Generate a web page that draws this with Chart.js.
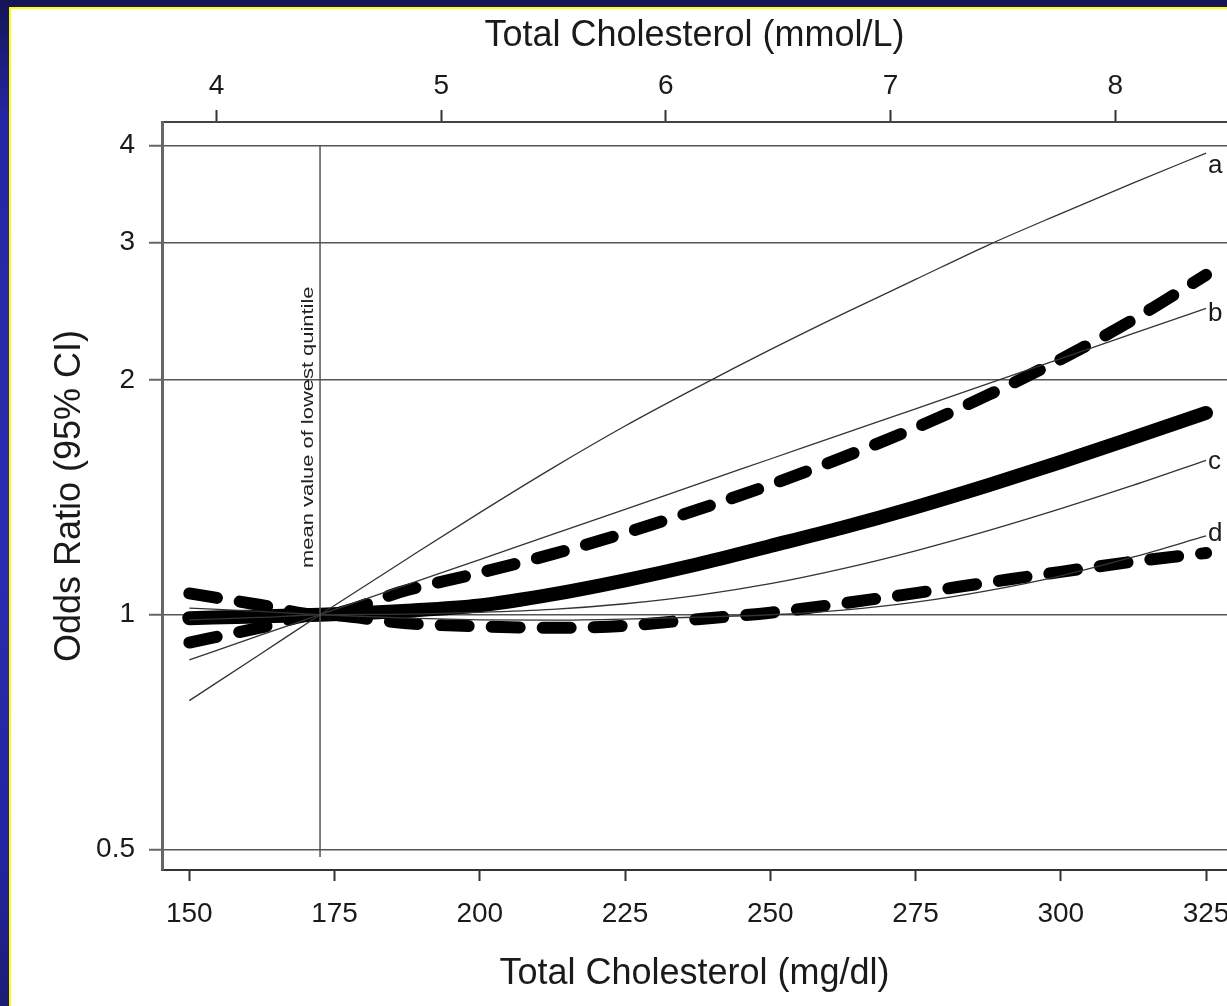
<!DOCTYPE html>
<html>
<head>
<meta charset="utf-8">
<script src="https://cdn.jsdelivr.net/npm/chart.js@4/dist/chart.umd.min.js"></script>
<style>
  html, body { margin: 0; padding: 0; width: 1227px; height: 1006px; overflow: hidden; }
  body { position: relative; background: linear-gradient(to bottom, #141455 0%, #2626a4 12%, #2b2bae 55%, #2424a0 85%, #1c1c74 100%); }
  #panel { position: absolute; left: 9px; top: 7px; right: 0; bottom: 0; background: #ffffff;
           border-left: 2px solid #ffff00; border-top: 2px solid #ffff00; }
  #wrap { position: absolute; left: 0; top: 0; width: 1227px; height: 1006px; }
</style>
</head>
<body>
<div id="panel"></div>
<div id="wrap"><canvas id="chart" width="1227" height="1006"></canvas></div>
<script>
// Total cholesterol grid (mg/dl) at which the curves are evaluated
const cholesterolMg = [150, 162, 172.5, 187.5, 200, 212.5, 225, 237.5, 250, 262.5, 275, 287.5, 300, 312.5, 325];

// Odds ratio estimate with its 95% confidence band
const oddsRatio = [0.99, 0.995, 1.0, 1.012, 1.028, 1.062, 1.107, 1.161, 1.225, 1.294, 1.374, 1.466, 1.570, 1.687, 1.815];
const upperCI   = [1.065, 1.03, 1.0, 1.076, 1.132, 1.196, 1.273, 1.364, 1.468, 1.592, 1.737, 1.914, 2.127, 2.392, 2.729];
const lowerCI   = [0.921, 0.962, 1.0, 0.975, 0.966, 0.962, 0.968, 0.987, 1.006, 1.034, 1.066, 1.10, 1.135, 1.17, 1.20];

// Comparison curves a–d
const curveA = [0.776, 0.888, 1.0, 1.18, 1.352, 1.542, 1.746, 1.959, 2.188, 2.432, 2.692, 2.98, 3.27, 3.58, 3.91];
const curveB = [0.875, 0.94, 1.0, 1.093, 1.177, 1.268, 1.365, 1.471, 1.584, 1.706, 1.837, 1.979, 2.131, 2.295, 2.472];
const curveC = [0.985, 0.992, 1.0, 1.002, 1.007, 1.016, 1.033, 1.059, 1.096, 1.146, 1.208, 1.282, 1.368, 1.466, 1.578];
const curveD = [1.02, 1.01, 1.0, 0.99, 0.985, 0.984, 0.987, 0.993, 1.0, 1.014, 1.038, 1.074, 1.122, 1.186, 1.262];
const curveNames = ['a', 'b', 'c', 'd'];

// Reference: mean value of the lowest quintile
const lowestQuintileMean = 172.5;
const refLineSpan = [4, 0.489];
const noteText = 'mean value of lowest quintile';

// Axis ticks and ranges
const mgTicks = [150, 175, 200, 225, 250, 275, 300, 325];
const mmolTicks = [4, 5, 6, 7, 8];
const orTicks = [0.5, 1, 2, 3, 4];
const MG_PER_MMOL = 38.67;
const X_MIN = 145.3, X_MAX = 328.6;
const Y_MIN = 0.4705, Y_MAX = 4.286;

const FAMILY = '"Liberation Sans", Arial, Helvetica, sans-serif';
const INK = '#1a1a1a';
const tickFont = { family: FAMILY, size: 28 };
const titleFont = { family: FAMILY, size: 36 };

const pts = ys => cholesterolMg.map((x, i) => ({ x, y: ys[i] }));

const thin = (ys, label) => ({
  label, data: pts(ys), borderColor: '#333', borderWidth: 1.3,
  pointRadius: 0, cubicInterpolationMode: 'monotone', fill: false
});
const thickDash = (ys, label) => ({
  label, data: pts(ys), borderColor: '#000', borderWidth: 12,
  borderDash: [28, 23], borderCapStyle: 'round',
  pointRadius: 0, cubicInterpolationMode: 'monotone', fill: false
});

// Letter offsets (px) from each curve's end point to the label baseline
const letterDy = [20, 12.5, 9, 5];

const annotate = {
  id: 'annotate',
  afterDatasetsDraw(chart) {
    const { ctx, scales: { x, y } } = chart;
    ctx.save();
    ctx.fillStyle = '#222';
    // rotated note alongside the reference line
    ctx.translate(x.getPixelForValue(lowestQuintileMean) - 11, y.getPixelForValue(1.74));
    ctx.rotate(-Math.PI / 2);
    ctx.scale(1.37, 1);
    ctx.font = '16px ' + FAMILY;
    ctx.textAlign = 'center';
    ctx.textBaseline = 'middle';
    ctx.fillText(noteText, 0, 0);
    ctx.restore();

    // curve letters at the right end of each thin curve
    ctx.save();
    ctx.fillStyle = INK;
    ctx.font = '26px ' + FAMILY;
    ctx.textAlign = 'left';
    ctx.textBaseline = 'alphabetic';
    const ends = [curveA, curveB, curveC, curveD].map(c => c[c.length - 1]);
    const lastX = cholesterolMg[cholesterolMg.length - 1];
    ends.forEach((v, i) => {
      ctx.fillText(curveNames[i], x.getPixelForValue(lastX) + 2, y.getPixelForValue(v) + letterDy[i]);
    });
    ctx.restore();
  }
};

// Horizontal axes keep a fixed band height and no label overhang padding
const fixHorizontal = h => s => { s.height = h; s.paddingLeft = 0; s.paddingRight = 0; };

new Chart(document.getElementById('chart'), {
  type: 'line',
  data: {
    datasets: [
      {
        label: noteText,
        data: refLineSpan.map(v => ({ x: lowestQuintileMean, y: v })),
        borderColor: '#555', borderWidth: 1.5, pointRadius: 0, fill: false
      },
      thin(curveA, 'a'),
      thin(curveB, 'b'),
      thin(curveC, 'c'),
      thin(curveD, 'd'),
      {
        label: 'Odds ratio', data: pts(oddsRatio), borderColor: '#000', borderWidth: 14,
        borderCapStyle: 'round', pointRadius: 0, cubicInterpolationMode: 'monotone', fill: false
      },
      thickDash(upperCI, 'Upper 95% CI'),
      thickDash(lowerCI, 'Lower 95% CI')
    ]
  },
  options: {
    responsive: false,
    devicePixelRatio: 1,
    animation: false,
    layout: { padding: 0 },
    plugins: { legend: { display: false }, tooltip: { enabled: false } },
    scales: {
      x: {
        type: 'linear', position: 'bottom', min: X_MIN, max: X_MAX,
        afterBuildTicks: s => { s.ticks = mgTicks.map(v => ({ value: v })); },
        afterFit: fixHorizontal(136),
        ticks: { font: tickFont, color: INK, padding: 16, maxRotation: 0, autoSkip: false, callback: v => String(v) },
        grid: { drawOnChartArea: false, drawTicks: true, tickLength: 11, tickWidth: 2, tickColor: '#333' },
        border: { display: true, color: '#333', width: 2 },
        title: { display: true, text: 'Total Cholesterol (mg/dl)', font: titleFont, color: INK, padding: { top: 0, bottom: 10 } }
      },
      x2: {
        type: 'linear', position: 'top', min: X_MIN / MG_PER_MMOL, max: X_MAX / MG_PER_MMOL,
        afterBuildTicks: s => { s.ticks = mmolTicks.map(v => ({ value: v })); },
        afterFit: fixHorizontal(122),
        ticks: { font: tickFont, color: INK, padding: 7, maxRotation: 0, autoSkip: false, callback: v => String(v) },
        grid: { drawOnChartArea: false, drawTicks: true, tickLength: 12, tickWidth: 2, tickColor: '#333' },
        border: { display: true, color: '#444', width: 2 },
        title: { display: true, text: 'Total Cholesterol (mmol/L)', font: titleFont, color: INK, padding: { top: 14, bottom: 0 } }
      },
      y: {
        type: 'logarithmic', position: 'left', min: Y_MIN, max: Y_MAX,
        afterBuildTicks: s => { s.ticks = orTicks.map(v => ({ value: v })); },
        afterFit: s => { s.width = 162; s.paddingTop = 0; s.paddingBottom = 0; },
        ticks: { font: tickFont, color: INK, padding: 14, autoSkip: false, callback: v => String(v) },
        grid: { color: '#555', lineWidth: 1.5, drawTicks: true, tickLength: 13, tickWidth: 2, tickColor: '#666' },
        border: { display: true, color: '#666', width: 3 },
        title: { display: true, text: 'Odds Ratio (95% CI)', font: titleFont, color: INK, padding: { top: 48, bottom: 0 } }
      }
    }
  },
  plugins: [annotate]
});
</script>
</body>
</html>
